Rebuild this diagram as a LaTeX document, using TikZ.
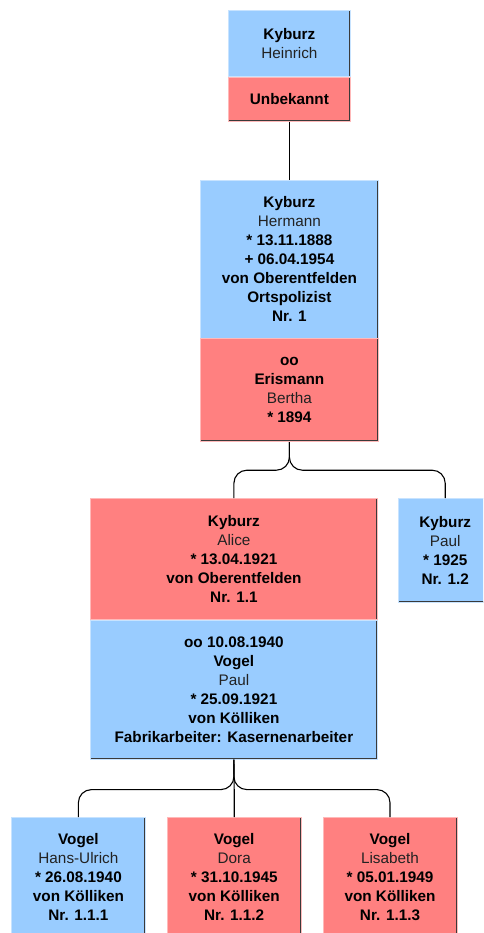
\documentclass[tikz,border=0pt]{standalone}
\usepackage{fontspec}
\setmainfont{Liberation Sans}
\usetikzlibrary{positioning}

\definecolor{maleblue}{HTML}{99CCFF}
\definecolor{femalered}{HTML}{FF8080}
\definecolor{givengray}{HTML}{222222}
\definecolor{edgedark}{HTML}{3A3A3A}

\newcommand{\given}[1]{\textmd{\color{givengray}#1}}

\begin{document}
\begin{tikzpicture}[x = 1pt, y = 1pt, node distance = 0pt, line width = 1.1pt,
  person/.style = {align = center, inner sep = 0pt, line width = 0.8pt,
    font = \fontsize{15.3}{19}\selectfont\bfseries,
    path picture = {\draw[edgedark, line width = 3pt]
      (path picture bounding box.north east) -- (path picture bounding box.south east)
      -- (path picture bounding box.south west);}},
  upper/.style = {path picture = {\draw[edgedark, line width = 3pt]
      (path picture bounding box.north east) -- (path picture bounding box.south east);}},
  male/.style = {person, fill = maleblue, draw = maleblue!55!white},
  female/.style = {person, fill = femalered, draw = femalered!55!white},
  link/.style = {rounded corners = 13pt}]
\clip (0,0) rectangle (483,-933);
\useasboundingbox (0,0) rectangle (483,-933);

% generation 1
\node[male, upper, anchor = north west, minimum width = 122pt, minimum height = 66pt] (heinrich) at (228,-10) {Kyburz\\\given{Heinrich}};
\node[female, below = of heinrich, minimum width = 122pt, minimum height = 44pt] (heinrichP) {Unbekannt};

% generation 2
\node[male, upper, below = 58pt of heinrichP, minimum width = 178pt, minimum height = 158pt] (hermann)
  {Kyburz\\\given{Hermann}\\* 13.11.1888\\+ 06.04.1954\\von Oberentfelden\\Ortspolizist\\Nr. 1};
\node[female, below = of hermann, minimum width = 178pt, minimum height = 103pt] (bertha)
  {oo\\Erismann\\\given{Bertha}\\* 1894};

% generation 3
\node[female, upper, anchor = north west, minimum width = 287pt, minimum height = 121pt] (alice) at (90,-498)
  {Kyburz\\\given{Alice}\\* 13.04.1921\\von Oberentfelden\\Nr. 1.1};
\node[male, below = of alice, minimum width = 287pt, minimum height = 139pt] (paulv)
  {oo 10.08.1940\\Vogel\\\given{Paul}\\* 25.09.1921\\von Kölliken\\Fabrikarbeiter: Kasernenarbeiter};
\node[male, below right = 0pt and 20pt of alice.north east, minimum width = 94pt, minimum height = 104pt] (paulk)
  {Kyburz\\\given{Paul}\\* 1925\\Nr. 1.2};

% generation 4
\node[male, anchor = north west, minimum width = 134pt, minimum height = 120pt] (hansulrich) at (11,-817)
  {Vogel\\\given{Hans-Ulrich}\\* 26.08.1940\\von Kölliken\\Nr. 1.1.1};
\node[female, right = 21pt of hansulrich, minimum width = 134pt, minimum height = 120pt] (dora)
  {Vogel\\\given{Dora}\\* 31.10.1945\\von Kölliken\\Nr. 1.1.2};
\node[female, right = 21pt of dora, minimum width = 134pt, minimum height = 120pt] (lisabeth)
  {Vogel\\\given{Lisabeth}\\* 05.01.1949\\von Kölliken\\Nr. 1.1.3};

% connectors
\draw (heinrichP) -- (hermann);

\coordinate[below = 28pt of bertha.south] (fork1);
\draw[link] (bertha.south) -- (fork1) -| (alice.north);
\draw[link] (bertha.south) -- (fork1) -| (paulk.north);

\coordinate[below = 30pt of paulv.south] (fork2);
\draw[link] (paulv.south) -- (fork2) -| (hansulrich.north);
\draw[link] (paulv.south) -- (fork2) -| (lisabeth.north);
\draw (paulv.south) -- (fork2 -| dora.north) -- (dora.north);
\end{tikzpicture}
\end{document}
